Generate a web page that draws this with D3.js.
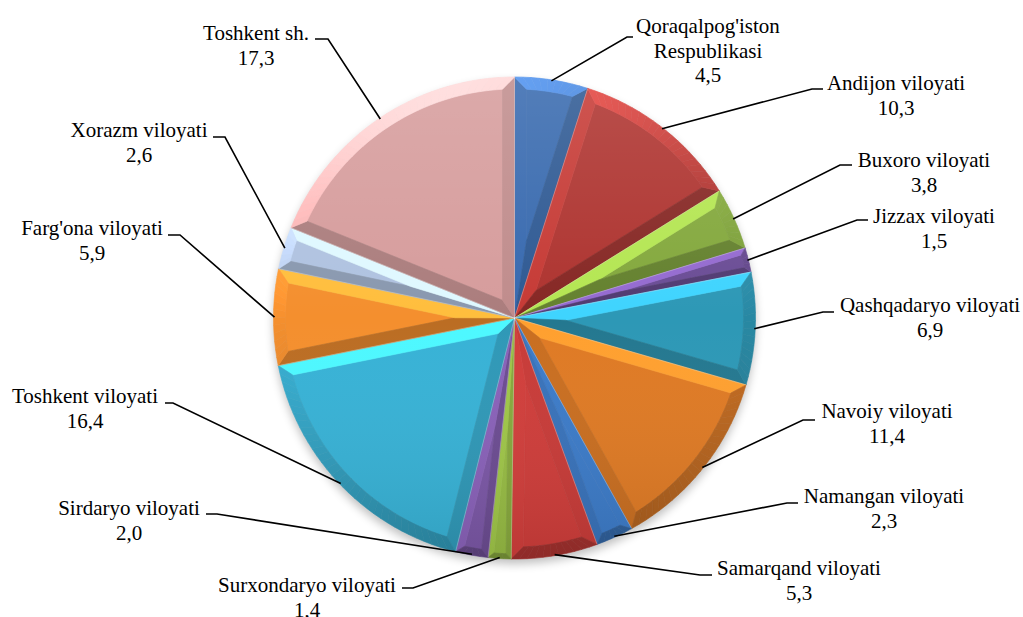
<!DOCTYPE html>
<html><head><meta charset="utf-8">
<script src="https://cdn.jsdelivr.net/npm/d3@7"></script>
<style>body{margin:0;background:#fff} svg{display:block} .lab{font-family:"Liberation Serif","DejaVu Serif","Times New Roman",serif;font-size:21px}</style>
</head><body><svg id="c" width="1023" height="617"></svg>
<script>
// ---- data ----
const categories = ["Qoraqalpog'iston Respublikasi","Andijon viloyati","Buxoro viloyati","Jizzax viloyati",
  "Qashqadaryo viloyati","Navoiy viloyati","Namangan viloyati","Samarqand viloyati","Surxondaryo viloyati",
  "Sirdaryo viloyati","Toshkent viloyati","Farg'ona viloyati","Xorazm viloyati","Toshkent sh."];
const values = [4.5,10.3,3.8,1.5,6.9,11.4,2.3,5.3,1.4,2.0,16.4,5.9,2.6,17.3];
const colors = ["#3769AE","#AE332F","#83A83C","#6A4C95","#2D98B6","#DF7A24","#3C7BC8","#CF3D3A",
  "#97BC44","#7B57A6","#37B2D6","#F48F2E","#AFC2E0","#D69C9C"];
// label layout: label centre x, first baseline y, elbow point, end of short horizontal
const labelLayout = [
  {tx:708,ty:33,ex:627,ey:37,hx:633,wrap:true},
  {tx:896,ty:90,ex:812,ey:89,hx:823},
  {tx:924,ty:167,ex:840,ey:165,hx:852},
  {tx:934,ty:223,ex:857,ey:220,hx:868},
  {tx:930,ty:312,ex:823,ey:312,hx:834},
  {tx:887,ty:418,ex:803,ey:420,hx:815},
  {tx:884,ty:503,ex:787,ey:503,hx:798},
  {tx:799,ty:575,ex:700,ey:575,hx:712},
  {tx:307,ty:592,ex:413,ey:588,hx:402},
  {tx:129,ty:515,ex:217,ey:514,hx:206},
  {tx:85,ty:403,ex:173,ey:403,hx:165},
  {tx:92,ty:235,ex:180,ey:235,hx:168},
  {tx:139,ty:137,ex:225,ey:137,hx:213},
  {tx:256,ty:40,ex:328,ey:39,hx:315}
];

// ---- drawing ----
const svg = d3.select("#c");
const cx = 514.5, cy = 318, R = 241, W = 12;
const LIGHT = -15 * Math.PI/180;
const fmt = v => d3.format(".1f")(v).replace(".", ",");

const defs = svg.append("defs");
const f = defs.append("filter").attr("id","sh").attr("x","-20%").attr("y","-20%").attr("width","140%").attr("height","140%");
f.append("feGaussianBlur").attr("stdDeviation",5);
const g1 = defs.append("linearGradient").attr("id","ov").attr("x1",0).attr("y1",0).attr("x2",0).attr("y2",1);
g1.append("stop").attr("offset","0%").attr("stop-color","#fff").attr("stop-opacity",0.14);
g1.append("stop").attr("offset","50%").attr("stop-color","#fff").attr("stop-opacity",0);
g1.append("stop").attr("offset","100%").attr("stop-color","#000").attr("stop-opacity",0.10);

const root = svg.append("g").attr("transform",`translate(${cx},${cy})`);
root.append("circle").attr("cx",0).attr("cy",5).attr("r",R).attr("fill","#000").attr("opacity",0.25).attr("filter","url(#sh)");

const pie = d3.pie().sort(null).value(d => d);
const arcs = pie(values);
const P = (rho, a) => [rho*Math.sin(a), -rho*Math.cos(a)];
const pathOf = pts => "M" + pts.map(p => p[0].toFixed(2)+","+p[1].toFixed(2)).join("L") + "Z";
function shade(base, n) {
  const s = Math.cos(n - LIGHT) - 0.25;
  const c = d3.color(base);
  return (s >= 0 ? c.brighter(s*1.25) : c.darker(-s*0.6)).formatHex();
}

const pieG = root.append("g");
arcs.forEach((d, i) => {
  const a0 = d.startAngle, a1 = d.endAngle, th = a1 - a0, am = (a0+a1)/2;
  const base = colors[i];
  const w = Math.min(W, R*Math.sin(th/2)*0.45);
  const ri = R - w;
  const del = Math.asin(w/ri);
  const apex = P(w/Math.sin(th/2), am);
  const g = pieG.append("g");
  const face = (pts, col) => g.append("path").attr("d", pathOf(pts)).attr("fill", col).attr("stroke", col).attr("stroke-width",0.6).attr("stroke-linejoin","round");
  const n = Math.max(4, Math.ceil(th/(Math.PI/180)));
  const inner = [apex];
  for (let k=0;k<=n;k++) inner.push(P(ri, a0+del + (th-2*del)*k/n));
  face(inner, base);
  face([[0,0], P(R,a0), P(ri,a0+del), apex], shade(base, a0 - Math.PI/2));
  face([[0,0], apex, P(ri,a1-del), P(R,a1)], shade(base, a1 + Math.PI/2));
  const m = Math.max(2, Math.ceil(th/(Math.PI/90)));
  for (let k=0;k<m;k++) {
    const t0 = a0 + th*k/m, t1 = a0 + th*(k+1)/m;
    const u0 = a0+del + (th-2*del)*k/m, u1 = a0+del + (th-2*del)*(k+1)/m;
    face([P(R,t0), P(R,t1), P(ri,u1), P(ri,u0)], shade(base, (t0+t1)/2));
  }
});
root.append("circle").attr("r",R).attr("fill","url(#ov)");
arcs.forEach(d => {
  const p = P(R, d.startAngle);
  root.append("line").attr("x1",0).attr("y1",0).attr("x2",p[0]).attr("y2",p[1])
    .attr("stroke","#fff").attr("stroke-opacity",0.45).attr("stroke-width",0.6);
});

// leader lines & labels
const outerArc = d3.arc().innerRadius(R-1).outerRadius(R-1);
const labG = svg.append("g").attr("class","lab").attr("fill","#000").attr("text-anchor","middle");
arcs.forEach((d, i) => {
  const L = labelLayout[i];
  const c = outerArc.centroid(d);
  svg.append("polyline")
    .attr("points", `${cx+c[0]},${cy+c[1]} ${L.ex},${L.ey} ${L.hx},${L.ey}`)
    .attr("fill","none").attr("stroke","#000").attr("stroke-width",1.6);
  const name = categories[i];
  const lines = L.wrap ? name.split(" ") : [name];
  lines.push(fmt(values[i]));
  const t = labG.append("text").attr("x",L.tx).attr("y",L.ty);
  lines.forEach((s, k) => t.append("tspan").attr("x",L.tx).attr("dy", k===0 ? 0 : 24.5).text(s));
});
</script></body></html>
